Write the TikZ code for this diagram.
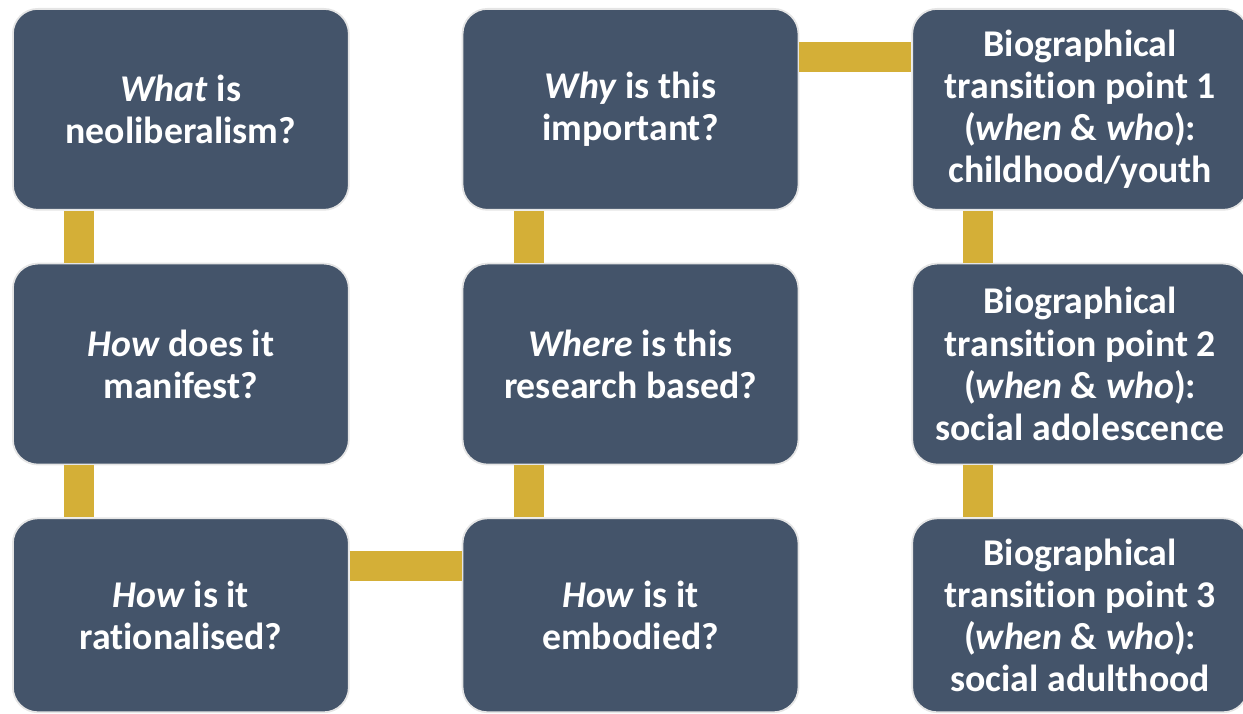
\documentclass[tikz,border=0pt]{standalone}
\usepackage{fontspec}
\setmainfont[Ligatures=NoCommon]{Carlito}
\usetikzlibrary{positioning}
\definecolor{slate}{HTML}{44546A}
\definecolor{gold}{HTML}{D4AF37}
\begin{document}
\begin{tikzpicture}[x=0.02cm,y=-0.02cm,
        box/.style={rectangle,rounded corners=0.5cm,fill=slate,draw=gray!20,
            line width=1pt,minimum width=6.72cm,minimum height=4.02cm,
            inner sep=0pt,text=white,align=center,
            font=\bfseries\fontsize{21.5}{24}\selectfont},
        bar/.style={draw=gold,line width=0.6cm}]
    \useasboundingbox (0,0) rectangle (1243,713);
    % first column
    \node[box,anchor=north west] (what) at (12,8) {\textit{What} is\\neoliberalism?};
    \node[box,below=1.04cm of what] (manifest) {\textit{How} does it\\manifest?};
    \node[box,below=1.04cm of manifest,minimum height=3.88cm] (rational) {\textit{How} is it\\rationalised?};
    % second column
    \node[box,right=2.24cm of what] (why) {\textit{Why} is this\\important?};
    \node[box,below=1.04cm of why] (where) {\textit{Where} is this\\research based?};
    \node[box,below=1.04cm of where,minimum height=3.88cm] (embodied) {\textit{How} is it\\embodied?};
    % third column
    \node[box,right=2.24cm of why] (bioA) {Biographical\\transition point 1\\(\textit{when} \& \textit{who}):\\childhood/youth};
    \node[box,below=1.04cm of bioA] (bioB) {Biographical\\transition point 2\\(\textit{when} \& \textit{who}):\\social adolescence};
    \node[box,below=1.04cm of bioB,minimum height=3.88cm] (bioC) {Biographical\\transition point 3\\(\textit{when} \& \textit{who}):\\social adulthood};
    % links
    \draw[bar] ([xshift=1.34cm]what.south west) -- ([xshift=1.34cm]manifest.north west);
    \draw[bar] ([xshift=1.34cm]manifest.south west) -- ([xshift=1.34cm]rational.north west);
    \draw[bar] ([yshift=-0.98cm]rational.north east) -- ([yshift=-0.98cm]embodied.north west);
    \draw[bar] ([xshift=1.34cm]embodied.north west) -- ([xshift=1.34cm]where.south west);
    \draw[bar] ([xshift=1.34cm]where.north west) -- ([xshift=1.34cm]why.south west);
    \draw[bar] ([yshift=-0.98cm]why.north east) -- ([yshift=-0.98cm]bioA.north west);
    \draw[bar] ([xshift=1.34cm]bioA.south west) -- ([xshift=1.34cm]bioB.north west);
    \draw[bar] ([xshift=1.34cm]bioB.south west) -- ([xshift=1.34cm]bioC.north west);
\end{tikzpicture}
\end{document}
